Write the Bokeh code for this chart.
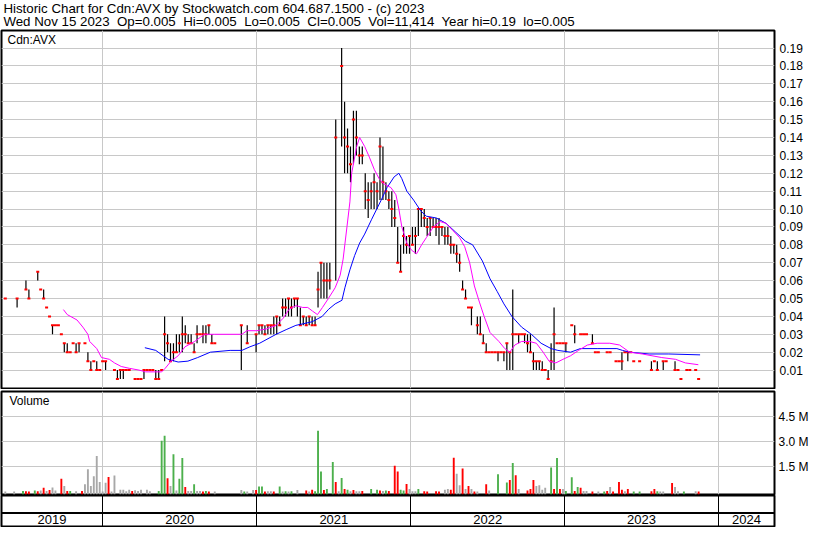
import pandas as pd
from bokeh.plotting import figure
from bokeh.layouts import column
from bokeh.models import (Range1d, FixedTicker, PrintfTickFormatter, Grid, Label,
                          Span, ColumnDataSource)
from bokeh.core.properties import value
from bokeh.embed import file_html
from bokeh.resources import INLINE

# ---------------- texts ----------------
TITLE_1 = "Historic Chart for Cdn:AVX by Stockwatch.com 604.687.1500 - (c) 2023"
TITLE_2 = ("Wed Nov 15 2023  Op=0.005  Hi=0.005  Lo=0.005  Cl=0.005  "
           "Vol=11,414  Year hi=0.19  lo=0.005")
SYMBOL = "Cdn:AVX"
VOLUME_LABEL = "Volume"

# ---------------- axes data ----------------
FIRST_WEEK = "2019-05-15"          # week 0 of the data
X_START = "2019-05-06"
X_END = "2024-05-13"
YEARS = [2019, 2020, 2021, 2022, 2023, 2024]
PRICE_TICKS = [0.01, 0.02, 0.03, 0.04, 0.05, 0.06, 0.07, 0.08, 0.09, 0.10,
               0.11, 0.12, 0.13, 0.14, 0.15, 0.16, 0.17, 0.18, 0.19]
VOLUME_TICKS = [1.5, 3.0, 4.5]      # millions of shares

# ---------------- price bars (week number since FIRST_WEEK) ----------------
bar_week = [0, 4, 7, 8, 11, 12, 13, 14, 15, 16,
            17, 18, 19, 20, 21, 22, 23, 24, 25, 27,
            28, 29, 30, 31, 32, 33, 34, 37, 38, 39,
            40, 41, 42, 44, 45, 46, 47, 48, 49, 50,
            51, 52, 53, 54, 55, 56, 57, 58, 59, 60,
            61, 62, 63, 64, 65, 66, 67, 68, 69, 70,
            71, 80, 82, 85, 86, 87, 88, 89, 90, 91,
            92, 93, 94, 95, 96, 97, 98, 99, 100, 101,
            102, 103, 104, 105, 106, 107, 108, 109, 110, 112,
            114, 115, 116, 117, 118, 119, 120, 121, 122, 123,
            124, 125, 126, 127, 128, 129, 130, 131, 132, 133,
            134, 135, 136, 137, 138, 139, 140, 141, 142, 143,
            144, 145, 146, 147, 148, 149, 150, 151, 152, 153,
            154, 155, 156, 157, 158, 160, 161, 162, 163, 164,
            165, 166, 167, 168, 169, 170, 171, 172, 173, 174,
            175, 176, 177, 178, 179, 180, 181, 182, 183, 184,
            185, 186, 187, 188, 189, 190, 192, 193, 195, 196,
            197, 199, 200, 201, 204, 205, 207, 208, 209, 210,
            211, 212, 213, 215, 219, 220, 221, 223, 224, 227,
            228, 229, 231, 232, 234, 235]
bar_high = [.05, .05, .06, .055, .065, .055, .055, .045, .04, .035,
            .035, .035, .03, .025, .025, .02, .025, .025, .025, .025,
            .02, .015, .015, .015, .01, .015, .015, .01, .01, .01,
            .01, .01, .01, .005, .005, .005, .01, .01, .01, .01,
            .01, .01, .01, .04, .03, .025, .025, .03, .03, .04,
            .035, .03, .03, .025, .035, .03, .035, .035, .035, .03,
            .025, .035, .035, .03, .035, .035, .035, .035, .035, .04,
            .04, .04, .05, .05, .05, .05, .05, .05, .045, .04,
            .04, .04, .04, .04, .065, .07, .07, .07, .07, .15,
            .19, .16, .145, .135, .155, .155, .135, .135, .12, .115,
            .115, .12, .115, .14, .135, .115, .11, .11, .105, .09,
            .08, .09, .085, .085, .09, .09, .10, .10, .10, .095,
            .095, .095, .095, .095, .09, .09, .09, .085, .08, .08,
            .075, .06, .055, .045, .045, .04, .04, .03, .025, .02,
            .02, .02, .02, .02, .02, .025, .02, .055, .03, .03,
            .03, .03, .03, .03, .02, .015, .015, .015, .01, .01,
            .025, .045, .025, .025, .025, .025, .035, .035, .03, .03,
            .03, .03, .02, .02, .02, .02, .015, .015, .02, .02,
            .02, .02, .015, .015, .015, .015, .015, .015, .015, .015,
            .01, .005, .01, .01, .01, .005]
bar_low = [.05, .045, .055, .05, .06, .055, .05, .045, .04, .03,
           .035, .035, .03, .02, .02, .02, .025, .02, .02, .025,
           .015, .01, .015, .01, .01, .015, .01, .01, .005, .005,
           .005, .01, .01, .005, .005, .005, .005, .01, .01, .01,
           .005, .005, .01, .015, .02, .015, .015, .02, .02, .02,
           .025, .025, .025, .02, .025, .03, .025, .025, .03, .025,
           .025, .01, .025, .02, .03, .03, .03, .03, .03, .03,
           .03, .035, .04, .04, .04, .04, .045, .04, .035, .035,
           .035, .035, .035, .035, .045, .05, .05, .05, .055, .06,
           .135, .12, .12, .115, .125, .13, .125, .125, .10, .095,
           .10, .10, .10, .105, .105, .105, .10, .09, .09, .07,
           .065, .075, .075, .075, .08, .075, .085, .09, .09, .085,
           .085, .09, .085, .08, .085, .08, .08, .075, .075, .07,
           .065, .055, .05, .045, .035, .03, .03, .025, .02, .02,
           .02, .02, .015, .02, .015, .01, .01, .01, .03, .025,
           .03, .025, .02, .02, .01, .01, .01, .01, .01, .005,
           .01, .01, .025, .025, .025, .02, .035, .025, .03, .03,
           .03, .025, .02, .02, .02, .02, .015, .015, .01, .02,
           .015, .02, .015, .015, .01, .015, .01, .01, .015, .01,
           .01, .005, .01, .01, .01, .005]
bar_close = [.05, .05, .055, .05, .065, .055, .05, .045, .04, .035,
             .035, .035, .03, .025, .02, .02, .025, .02, .025, .025,
             .015, .01, .015, .01, .01, .015, .015, .01, .005, .01,
             .01, .01, .01, .005, .005, .005, .01, .01, .01, .01,
             .005, .005, .01, .03, .025, .015, .02, .02, .025, .03,
             .03, .025, .025, .02, .03, .03, .03, .03, .035, .025,
             .025, .035, .025, .03, .035, .035, .03, .035, .035, .035,
             .04, .035, .045, .045, .05, .045, .05, .05, .035, .04,
             .035, .04, .035, .035, .055, .07, .06, .06, .06, .14,
             .18, .14, .135, .125, .15, .14, .13, .13, .11, .105,
             .11, .115, .11, .135, .115, .11, .105, .10, .095, .07,
             .065, .085, .08, .085, .08, .085, .10, .10, .095, .09,
             .095, .09, .09, .09, .09, .085, .085, .08, .08, .075,
             .07, .055, .05, .045, .045, .035, .03, .025, .02, .02,
             .02, .02, .02, .02, .02, .025, .02, .03, .03, .03,
             .03, .03, .025, .02, .015, .015, .015, .01, .01, .005,
             .015, .03, .025, .025, .025, .025, .035, .03, .03, .03,
             .03, .025, .02, .02, .02, .02, .015, .015, .015, .02,
             .02, .02, .015, .015, .01, .015, .01, .015, .015, .01,
             .01, .005, .01, .01, .01, .005]

# ---------------- moving averages ----------------
fast_ma_week = [19.7, 21, 24.3, 26.3, 28, 28.6, 31, 32.6, 35.3, 37,
                39.3, 42, 45.3, 47.6, 53, 54.2, 56.2, 58.6, 60.9, 64.2,
                67.5, 70.9, 80.2, 81.9, 85.2, 88.5, 91.8, 94.2, 96.2, 98.5,
                100.8, 102.5, 104.1, 105.8, 107.5, 109.5, 111.8, 113.5, 114.5, 115.8,
                116.8, 117.4, 119.1, 120.1, 121.8, 123.4, 125.1, 126.7, 128.4, 130.7,
                132.4, 133.4, 134.4, 136.1, 137.7, 139.4, 141.1, 142.7, 145.1, 147.4,
                149.4, 151.7, 154, 155.7, 157.4, 159, 160.7, 162.3, 164.3, 167.3,
                169.3, 171, 172.7, 175, 177.6, 180, 182.3, 184.3, 186.6, 189,
                191.6, 194.3, 197.3, 200.6, 204.9, 208.2, 211.6, 215.9, 222.5, 227.2,
                230.5, 234.9]
fast_ma = [.0438, .041, .038, .034, .030, .026, .022, .017, .016, .014,
           .012, .011, .010, .009, .009, .011, .015, .018, .023, .026,
           .030, .030, .030, .032, .032, .033, .035, .039, .044, .046,
           .045, .045, .043, .041, .045, .050, .056, .063, .072, .090,
           .104, .120, .135, .140, .135, .129, .122, .117, .114, .112,
           .108, .100, .090, .081, .077, .075, .080, .084, .090, .093,
           .092, .088, .084, .079, .070, .057, .048, .040, .031, .026,
           .022, .020, .024, .026, .026, .025, .020, .015, .014, .016,
           .018, .021, .024, .025, .025, .024, .020, .019, .017, .016,
           .014, .013]
slow_ma_week = [47.3, 51, 55.2, 58.6, 61.9, 65.2, 69.5, 76.2, 80.2, 82.9,
                86.2, 91.8, 95.2, 98.5, 104, 107.4, 109.6, 111.8, 114.1, 115.1,
                116.8, 118.4, 120.1, 121.8, 124.1, 127.4, 129.4, 131.8, 133.4, 134.4,
                136.1, 138.4, 140.8, 142.7, 146.1, 149.4, 152.7, 156, 158.4, 161.7,
                164.3, 166.7, 169, 171.7, 175, 178.3, 181.6, 185, 187.3, 191.6,
                194.9, 200.6, 207.3, 209.2, 211.6, 218.2, 224.9, 235.5]
slow_ma = [.0225, .021, .016, .0145, .015, .017, .020, .021, .021, .023,
           .025, .030, .0326, .035, .037, .040, .044, .047, .049, .056,
           .066, .074, .081, .086, .094, .105, .112, .118, .120, .117,
           .110, .105, .099, .096, .095, .092, .087, .082, .080, .071,
           .061, .054, .047, .040, .034, .030, .025, .022, .021, .020,
           .022, .022, .022, .021, .020, .019, .019, .0185]

# ---------------- volume (millions; u = up, d = down, n = unchanged) ----------------
vol_week = [0, 3, 6, 7, 8, 10, 11, 12, 13, 14,
            15, 16, 17, 19, 20, 21, 22, 24, 26, 27,
            28, 29, 30, 31, 32, 33, 34, 35, 36, 37,
            39, 40, 41, 42, 43, 44, 45, 46, 48, 49,
            52, 53, 54, 55, 56, 57, 58, 59, 60, 61,
            62, 63, 64, 65, 66, 67, 68, 69, 71, 80,
            81, 82, 84, 85, 86, 87, 88, 89, 90, 91,
            93, 94, 95, 96, 97, 99, 102, 103, 104, 105,
            106, 107, 108, 109, 111, 112, 113, 114, 115, 116,
            117, 118, 119, 120, 121, 124, 126, 127, 128, 129,
            130, 132, 133, 134, 135, 136, 137, 138, 139, 140,
            142, 143, 146, 147, 149, 150, 151, 152, 153, 154,
            155, 156, 157, 158, 159, 160, 163, 164, 167, 170,
            171, 172, 173, 174, 177, 178, 179, 180, 181, 182,
            183, 185, 186, 187, 188, 189, 190, 192, 193, 194,
            195, 196, 197, 199, 201, 203, 204, 205, 206, 208,
            209, 210, 211, 213, 215, 219, 220, 221, 222, 223,
            226, 227, 228, 230, 234, 235]
vol_m = [.03, .03, .06, .04, .02, .08, .04, .08, .25, .05,
         .12, .27, .08, .79, .36, .05, .06, .04, .05, .46,
         1.36, .36, .94, 2.15, .60, .03, .55, .90, .03, .98,
         .13, .13, .04, .13, .05, .10, .05, .13, .13, .04,
         .05, 3.06, 3.36, .82, .36, 2.26, .08, .79, 2.04, .30,
         .05, .05, .46, .05, .05, .02, .05, .02, .03, .12,
         .03, .03, .12, .12, .32, .32, .02, .04, .04, .02,
         .32, .02, .04, .02, .04, .12, .08, .02, .13, .04,
         3.67, 1.23, .12, .17, 1.80, .60, .04, .84, .17, .13,
         .04, .12, .04, .04, .05, .17, .13, .08, .06, .08,
         .06, 1.57, 1.23, .13, .08, .48, .17, .04, .04, .17,
         .04, .02, .04, .02, .13, .17, .13, 2.05, 1.09, .40,
         1.40, .17, .36, .17, .02, .02, .46, .08, 1.06, .57,
         .71, 1.73, 1.00, .17, .08, .17, .71, .36, .40, .13,
         .25, 1.46, .17, 2.04, .17, .17, .06, .88, .06, .29,
         .25, .06, .06, .02, .02, .02, .06, .30, .02, .60,
         .13, .04, .17, .02, .02, .04, .17, .04, .02, .02,
         .54, .30, .04, .02, .04, .02]
vol_dir = ["n", "n", "u", "d", "d", "u", "d", "n", "d", "n",
           "d", "n", "n", "d", "n", "d", "u", "n", "d", "n",
           "n", "n", "n", "n", "n", "n", "n", "d", "n", "n",
           "n", "n", "n", "n", "d", "n", "n", "n", "n", "n",
           "u", "u", "u", "d", "n", "u", "n", "u", "u", "d",
           "n", "n", "u", "n", "n", "d", "u", "d", "n", "n",
           "u", "n", "n", "d", "u", "u", "d", "n", "n", "d",
           "u", "n", "u", "n", "u", "n", "d", "n", "d", "u",
           "u", "u", "d", "u", "u", "d", "n", "u", "d", "u",
           "n", "d", "n", "n", "d", "u", "u", "d", "n", "u",
           "d", "d", "d", "u", "u", "d", "n", "n", "n", "u",
           "d", "d", "d", "d", "n", "n", "d", "d", "n", "n",
           "d", "n", "d", "n", "d", "n", "d", "n", "u", "u",
           "d", "u", "d", "n", "d", "d", "d", "n", "n", "n",
           "n", "u", "d", "u", "d", "n", "u", "u", "d", "u",
           "d", "n", "n", "d", "n", "u", "d", "n", "d", "d",
           "d", "n", "d", "u", "u", "d", "d", "u", "n", "n",
           "d", "n", "n", "u", "n", "d"]

assert len(bar_week) == len(bar_high) == len(bar_low) == len(bar_close)
assert len(fast_ma_week) == len(fast_ma) and len(slow_ma_week) == len(slow_ma)
assert len(vol_week) == len(vol_m) == len(vol_dir)

# ---------------- styling ----------------
FONT = "Liberation Sans"
GRID = "#c8c8c8"
DIR_COLOR = {"u": "#4cb04c", "d": "#ff0000", "n": "#a8a8a8"}
W = 814
RIGHT = 40
DAY_MS = 86400000.0


def week_dates(weeks):
    return pd.Timestamp(FIRST_WEEK) + pd.to_timedelta([7.0 * w for w in weeks], unit="D")


def ms(ts):
    return pd.Timestamp(ts).value / 1e6


def keep_gaps(s):
    # keep the double spaces of the original header visible in SVG text
    return s.replace("  ", "\u00a0 ")


year_bounds = [ms(f"{y}-01-01") for y in YEARS[1:]]
x_range = Range1d(pd.Timestamp(X_START), pd.Timestamp(X_END))


def add_grid(p, dim, ticks, color):
    p.add_layout(Grid(dimension=dim, ticker=FixedTicker(ticks=ticks),
                      grid_line_color=color, grid_line_width=1))


def base_fig(height, y_range, top, bottom, y_loc):
    p = figure(width=W, height=height, x_range=x_range, y_range=y_range,
               x_axis_type="datetime", x_axis_location=None, y_axis_location=y_loc,
               toolbar_location=None, output_backend="svg",
               min_border_left=1, min_border_right=RIGHT,
               min_border_top=top, min_border_bottom=bottom,
               outline_line_color="black", outline_line_width=2,
               background_fill_color="white", border_fill_color="white")
    for g in p.grid:
        g.grid_line_color = None
    return p


def style_axis(ax, ticks, fmt, standoff):
    ax.ticker = FixedTicker(ticks=ticks)
    ax.formatter = PrintfTickFormatter(format=fmt)
    ax.axis_line_color = None
    ax.major_tick_line_color = None
    ax.minor_tick_line_color = None
    ax.major_tick_out = 0
    ax.major_tick_in = 0
    ax.minor_tick_out = 0
    ax.minor_tick_in = 0
    ax.major_label_text_font = FONT
    ax.major_label_text_font_size = "12px"
    ax.major_label_text_color = "black"
    ax.major_label_standoff = standoff


# ---------------- header ----------------
header = figure(width=W, height=29, x_range=Range1d(0, W), y_range=Range1d(29, 0),
                toolbar_location=None, output_backend="svg", min_border=0,
                x_axis_location=None, y_axis_location=None, outline_line_color=None)
header.grid.visible = False
header.text(x=[2, 2], y=[7.5, 21], text=[keep_gaps(TITLE_1), keep_gaps(TITLE_2)],
            text_font=value(FONT), text_font_size="13.3px", text_color="black",
            text_baseline="middle")

# ---------------- price panel ----------------
price = base_fig(360, Range1d(-0.0003, 0.1998), 1, 1, "right")
add_grid(price, 1, PRICE_TICKS, GRID)
add_grid(price, 0, year_bounds, GRID)
style_axis(price.yaxis[0], PRICE_TICKS, "%.2f", 5)

bars = ColumnDataSource(dict(date=week_dates(bar_week), high=bar_high,
                             low=bar_low, close=bar_close))
price.segment(x0="date", y0="low", x1="date", y1="high", source=bars,
              line_color="black", line_width=1.2)
price.rect(x="date", y="close", width=3, height=2, width_units="screen",
           height_units="screen", source=bars, fill_color="#ff0000", line_color=None)
price.line(week_dates(slow_ma_week), slow_ma, line_color="#0000ff", line_width=1)
price.line(week_dates(fast_ma_week), fast_ma, line_color="#ff00ff", line_width=1)
price.add_layout(Label(x=6, y=342, x_units="screen", y_units="screen", text=SYMBOL,
                       text_font=FONT, text_font_size="12px", text_color="black"))

# ---------------- volume panel ----------------
v_low = -0.156
vol = base_fig(106, Range1d(v_low, 6.02), 2, 1, "right")
add_grid(vol, 1, VOLUME_TICKS, GRID)
add_grid(vol, 0, year_bounds, GRID)
style_axis(vol.yaxis[0], VOLUME_TICKS, "%.1f M", 4)
vol.vbar(x=week_dates(vol_week), top=vol_m, bottom=v_low, width=4.5 * DAY_MS,
         fill_color=[DIR_COLOR[d] for d in vol_dir], line_color=None)
vol.add_layout(Label(x=8, y=87, x_units="screen", y_units="screen", text=VOLUME_LABEL,
                     text_font=FONT, text_font_size="12px", text_color="black"))

# ---------------- year row ----------------
years_fig = base_fig(32, Range1d(0, 31), 0, 1, None)
add_grid(years_fig, 0, year_bounds, "black")
years_fig.add_layout(Span(location=13.5, dimension="width", line_color="black",
                          line_width=2))
x0, x1 = ms(X_START), ms(X_END)
label_x = []
for y in YEARS:
    a = max(ms(f"{y}-01-01"), x0)
    b = min(ms(f"{y + 1}-01-01"), x1)
    label_x.append((a + b) / 2)
years_fig.text(x=label_x, y=[6.75] * len(YEARS), text=[str(y) for y in YEARS],
               text_font=value(FONT), text_font_size="13px", text_color="black",
               text_align="center", text_baseline="middle")

layout = column(header, price, vol, years_fig, spacing=0)
open("out.html", "w").write(file_html(layout, INLINE))
